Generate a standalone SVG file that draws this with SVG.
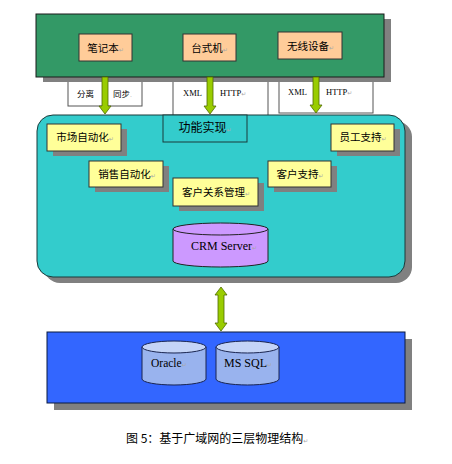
<svg xmlns="http://www.w3.org/2000/svg" width="452" height="464" viewBox="0 0 452 464">
<style>
.cjk{font-family:"Noto Sans CJK SC","Noto Sans",sans-serif;fill:#000}
.ser{font-family:"Liberation Serif","Noto Sans CJK SC",serif;fill:#000}
.mk{fill:#a8a8a8;font-size:6px;font-family:"DejaVu Sans",sans-serif}
.shadow{fill:#808080}
.tan{fill:#FFCC99;stroke:#333;stroke-width:1}
.yel{fill:#FFFF99;stroke:#333;stroke-width:1}
.lbl{fill:#fff;stroke:#555;stroke-width:1}
.arrow{fill:#99CC00;stroke:#4F6A00;stroke-width:0.8}
</style>
<rect width="452" height="464" fill="#fff"/>

<g id="labels">
  <rect class="lbl" x="68" y="77" width="74" height="29"/>
  <text class="cjk" x="77" y="97" font-size="8.5">分离</text>
  <text class="cjk" x="113" y="97" font-size="8.5">同步<tspan class="mk" font-size="5">.</tspan></text>
  <rect class="lbl" x="173" y="77" width="95" height="40"/>
  <text class="ser" x="183" y="96" font-size="8.5">XML</text>
  <text class="ser" x="220" y="96" font-size="8.5">HTTP<tspan class="mk">↵</tspan></text>
  <rect class="lbl" x="279" y="77" width="94" height="36"/>
  <text class="ser" x="288" y="95" font-size="8.5">XML</text>
  <text class="ser" x="326" y="95" font-size="8.5">HTTP<tspan class="mk">↵</tspan></text>
</g>

<g id="client-tier">
  <rect class="shadow" x="43" y="19" width="348" height="63"/>
  <rect x="36" y="14" width="348" height="63" fill="#339966" stroke="#1a1a1a" stroke-width="1"/>
</g>
<g id="notebook">
  <rect class="tan" x="79" y="34" width="53" height="27"/>
  <text class="cjk" x="105.5" y="52" font-size="10.5" text-anchor="middle">笔记本<tspan class="mk">↵</tspan></text>
</g>
<g id="desktop">
  <rect class="tan" x="183" y="34" width="53" height="27"/>
  <text class="cjk" x="209.5" y="52" font-size="10.5" text-anchor="middle">台式机<tspan class="mk">↵</tspan></text>
</g>
<g id="wireless">
  <rect class="tan" x="278" y="32" width="64" height="27"/>
  <text class="cjk" x="310.5" y="50" font-size="10.5" text-anchor="middle">无线设备<tspan class="mk">↵</tspan></text>
</g>

<g id="app-tier">
  <rect class="shadow" x="44" y="121" width="368" height="162" rx="16"/>
  <rect x="37" y="115" width="368" height="162" rx="16" fill="#33CCCC" stroke="#1a3a3a" stroke-width="1"/>
</g>
<g id="function">
  <rect x="163" y="115" width="84" height="27" fill="#33CCCC" stroke="#1a3a3a" stroke-width="1"/>
  <text class="cjk" x="205" y="132" font-size="12" text-anchor="middle">功能实现<tspan class="mk">↵</tspan></text>
</g>
<g id="marketing">
  <rect class="shadow" x="53" y="129" width="74" height="27"/>
  <rect class="yel" x="47" y="124" width="74" height="27"/>
  <text class="cjk" x="85" y="141" font-size="10.5" text-anchor="middle">市场自动化<tspan class="mk">↵</tspan></text>
</g>
<g id="staff">
  <rect class="shadow" x="337" y="129" width="63" height="27"/>
  <rect class="yel" x="331" y="124" width="63" height="27"/>
  <text class="cjk" x="363" y="141" font-size="10.5" text-anchor="middle">员工支持<tspan class="mk">↵</tspan></text>
</g>
<g id="sales">
  <rect class="shadow" x="95" y="166" width="74" height="26"/>
  <rect class="yel" x="89" y="161" width="74" height="26"/>
  <text class="cjk" x="127" y="178" font-size="10.5" text-anchor="middle">销售自动化<tspan class="mk">↵</tspan></text>
</g>
<g id="customer-support">
  <rect class="shadow" x="274" y="166" width="63" height="26"/>
  <rect class="yel" x="268" y="161" width="63" height="26"/>
  <text class="cjk" x="300" y="178" font-size="10.5" text-anchor="middle">客户支持<tspan class="mk">↵</tspan></text>
</g>
<g id="crm">
  <rect class="shadow" x="179" y="183" width="85" height="28"/>
  <rect class="yel" x="173" y="178" width="85" height="28"/>
  <text class="cjk" x="216" y="196" font-size="10.5" text-anchor="middle">客户关系管理<tspan class="mk">↵</tspan></text>
</g>
<g id="crm-server">
  <path d="M173,229 L173,261 A47.5,6 0 0 0 268,261 L268,229" fill="#CC99FF" stroke="#222" stroke-width="1"/>
  <ellipse cx="220.5" cy="229" rx="47.5" ry="6" fill="#CC99FF" stroke="#222" stroke-width="1"/>
  <text class="ser" x="224" y="250" font-size="12" text-anchor="middle">CRM Server<tspan class="mk">↵</tspan></text>
</g>

<g id="data-tier">
  <rect class="shadow" x="54" y="339" width="358" height="71"/>
  <rect x="47" y="332" width="358" height="71" fill="#3366FF" stroke="#0a1a40" stroke-width="1"/>
</g>
<g id="oracle">
  <path d="M142,347 L142,379 A32,6 0 0 0 206,379 L206,347" fill="#99B3EE" stroke="#1a2550" stroke-width="1"/>
  <ellipse cx="174" cy="347" rx="32" ry="6" fill="#C4D4F7" stroke="#1a2550" stroke-width="1"/>
  <text class="ser" x="151" y="367" font-size="11.5">Oracle<tspan class="mk">↵</tspan></text>
</g>
<g id="mssql">
  <path d="M216,347 L216,379 A31.5,6 0 0 0 279,379 L279,347" fill="#99B3EE" stroke="#1a2550" stroke-width="1"/>
  <ellipse cx="247.5" cy="347" rx="31.5" ry="6" fill="#C4D4F7" stroke="#1a2550" stroke-width="1"/>
  <text class="ser" x="224" y="367" font-size="12">MS SQL<tspan class="mk">↵</tspan></text>
</g>

<g id="connectors">
  <polygon class="arrow" points="102,77 108,77 108,106 111,106 105,114 99,106 102,106"/>
  <polygon class="arrow" points="207,77 213,77 213,106 216,106 210,114 204,106 207,106"/>
  <polygon class="arrow" points="313,77 319,77 319,105 322,105 316,113 310,105 313,105"/>
  <polygon class="arrow" points="221,287 227,295 224,295 224,323 227,323 221,331 215,323 218,323 218,295 215,295"/>
</g>

<g id="caption">
  <text class="cjk" x="126" y="443" font-size="12">图 5：基于广域网的三层物理结构<tspan class="mk" font-size="7">↵</tspan></text>
</g>
</svg>
